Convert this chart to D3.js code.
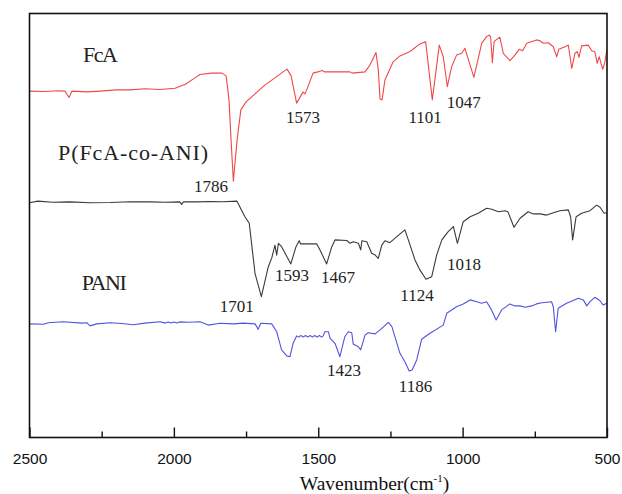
<!DOCTYPE html>
<html>
<head>
<meta charset="utf-8">
<script src="https://cdn.jsdelivr.net/npm/d3@7"></script>
<style>
  html, body { margin: 0; padding: 0; background: #fff; }
  svg { display: block; }
</style>
</head>
<body>
<svg id="chart" width="622" height="494"></svg>
<script>
// ---------------- DATA ----------------
// FcA spectrum (wavenumber cm-1, transmittance a.u.)
const fcaWn = [2500,2450,2400,2377,2363,2353,2300,2256,2200,2152,2100,2048,1996,1960,1927,1910,1870,1833,1819,1809,1802,1794,1781,1768,1750,1719,1685,1650,1622,1608,1594,1575,1563,1553,1546,1539,1518,1501,1487,1477,1440,1390,1383,1338,1321,1300,1292,1286,1279,1269,1241,1217,1182,1148,1128,1105,1081,1067,1053,1038,1021,1003,992,961,934,917,908,903,897,891,884,871,859,836,819,804,792,778,744,732,721,703,686,674,667,645,634,622,611,603,597,588,565,553,542,534,527,515,507,501];
const fcaT  = [86.6,86.5,86.7,86.6,85.0,86.6,86.4,86.6,86.9,86.9,87.2,87.0,87.3,88.3,89.9,90.75,91.1,91.1,90.4,84.4,74.4,64.1,74.4,81.9,83.9,85.9,88.1,89.9,91.4,92.1,90.4,83.6,85.1,86.4,85.9,87.1,91.1,91.4,91.75,91.4,91.4,91.4,91.1,91.4,93.1,96.25,91.9,84.6,84.4,89.4,93.9,95.4,96.5,98.4,98.95,84.4,98.1,95.2,87.7,92.7,95.6,96.05,97.3,90.05,98.55,100.2,100.6,100.2,93.7,98.95,99.4,100.05,96.05,94.2,95.6,97.05,96.7,98.55,99.4,99.2,98.55,98.7,97.7,95.2,97.05,97.7,98.1,92.3,96.05,96.45,95.05,97.9,98.1,96.7,96.45,93.55,95.2,92.05,93.95,96.7];

// P(FcA-co-ANI) spectrum
const copWn = [2500,2471,2420,2360,2290,2221,2150,2083,2030,1979,1973,1967,1920,1875,1830,1782,1754,1739,1719,1697,1673,1661,1650,1644,1638,1627,1595,1577,1566,1561,1505,1494,1471,1453,1442,1401,1390,1379,1361,1353,1349,1332,1315,1303,1292,1280,1269,1252,1228,1200,1188,1165,1148,1127,1107,1090,1072,1050,1032,1018,998,974,946,917,899,876,853,843,822,801,773,755,732,709,686,663,634,626,619,607,588,559,536,524,510,501];
const copT  = [58.7,59.1,58.8,58.9,58.7,58.75,58.95,58.9,58.8,58.9,58.25,58.9,58.9,59.0,58.95,59.1,55.2,53.55,41.05,35.2,42.7,44.9,48.1,45.6,48.55,47.7,43.4,47.7,49.2,48.4,48.4,46.9,43.4,47.7,49.4,49.25,48.55,48.95,48.55,46.9,49.2,48.95,46.05,45.6,44.8,48.1,49.2,48.7,50.2,51.9,49.4,44.4,41.9,39.55,40.2,45.6,49.4,51.45,52.7,48.55,53.95,55.2,56.05,57.3,57.05,56.45,56.7,56.4,52.55,54.8,56.45,55.9,55.9,55.6,56.2,56.7,56.9,55.2,49.4,55.2,56.05,56.7,58.1,57.55,56.05,56.2];

// PANI spectrum
const paniWn = [2500,2452,2435,2383,2320,2302,2290,2267,2221,2180,2141,2100,2048,2030,2020,2010,2000,1990,1980,1950,1910,1881,1840,1794,1760,1719,1708,1699,1661,1644,1627,1609,1598,1587,1575,1568,1560,1552,1544,1536,1528,1520,1512,1504,1496,1488,1483,1477,1465,1459,1442,1425,1408,1396,1384,1379,1361,1353,1338,1327,1303,1286,1257,1245,1217,1200,1185,1175,1159,1142,1113,1067,1055,1021,998,974,951,934,917,900,884,865,836,819,801,784,761,744,726,692,686,678,669,640,599,582,570,559,542,524,513,501];
const paniT  = [28.4,28.3,28.7,28.95,28.6,28.7,27.9,28.4,28.7,28.5,28.2,28.6,28.95,28.6,28.9,28.6,28.9,28.6,28.9,28.8,28.95,28.1,28.55,28.4,28.6,28.4,27.05,28.55,28.4,26.45,21.9,20.4,20.2,23.55,25.4,25.1,25.5,25.1,25.5,25.1,25.5,25.1,25.5,25.1,25.5,25.1,25.4,26.45,26.45,24.8,23.55,20.2,25.2,26.45,26.2,23.4,22.7,21.9,25.6,26.2,25.9,26.9,28.8,27.7,21.05,18.95,16.6,16.9,19.4,24.55,26.05,28.1,31.05,32.7,33.4,34.4,33.95,33.55,33.95,31.9,29.4,31.9,33.4,32.9,32.9,32.55,32.9,33.4,33.7,33.95,32.7,26.45,32.3,33.55,34.8,34.4,32.9,33.95,35.05,34.2,33.1,33.55];

const seriesNames  = ["FcA", "P(FcA-co-ANI)", "PANI"];
// label anchors in data space (wavenumber, transmittance)
const seriesLabelWn = [2315, 2401, 2319];
const seriesLabelT  = [93.95, 69.4, 36.9];

const peakLabels = ["1786","1573","1101","1047","1701","1593","1467","1124","1018","1423","1186"];
const peakLabelWn = [1871,1553,1130,996,1782,1591,1432,1158,995,1411,1163];
const peakLabelT  = [61.5,78.55,78.7,82.3,31.45,39.1,38.55,34.2,41.9,15.4,11.45];

const majorTicks = [2500, 2000, 1500, 1000, 500];
const minorTicks = [2250, 1750, 1250, 750];
const xTitle = "Wavenumber(cm";
const xTitleSup = "-1";
const xTitleEnd = ")";

// ---------------- DRAW ----------------
(function () {
const svg = d3.select("#chart");
const pL = 29.5, pR = 607, pT = 13.5, pB = 437.5;

const x = d3.scaleLinear().domain([2500, 500]).range([pL, pR]);
const y = d3.scaleLinear().domain([0, 106]).range([pB, pT]);

const series = [
  { wn: fcaWn, t: fcaT, color: "#f04848" },
  { wn: copWn, t: copT, color: "#3a3a3a" },
  { wn: paniWn, t: paniT, color: "#5252e0" }
];

const line = d3.line().x(d => x(d[0])).y(d => y(d[1]));

series.forEach(s => {
  const pts = s.wn.map((w, i) => [w, s.t[i]]);
  svg.append("path")
    .attr("d", line(pts))
    .attr("fill", "none")
    .attr("stroke", s.color)
    .attr("stroke-width", 1.1)
    .attr("stroke-linejoin", "round");
});

// frame
svg.append("rect")
  .attr("x", pL).attr("y", pT)
  .attr("width", pR - pL).attr("height", pB - pT)
  .attr("fill", "none").attr("stroke", "#111").attr("stroke-width", 1.6);

// axes
const axMajor = svg.append("g")
  .attr("transform", `translate(0,${pB})`)
  .call(d3.axisBottom(x).tickValues(majorTicks).tickSize(-10).tickPadding(15).tickFormat(d3.format("d")));
axMajor.select(".domain").remove();
axMajor.selectAll("line").attr("stroke", "#111").attr("stroke-width", 1.4);
axMajor.selectAll("text")
  .attr("font-family", "'Liberation Sans', Arial, sans-serif")
  .attr("font-size", 15.5).attr("fill", "#111");

const axMinor = svg.append("g")
  .attr("transform", `translate(0,${pB})`)
  .call(d3.axisBottom(x).tickValues(minorTicks).tickSize(-6).tickFormat(""));
axMinor.select(".domain").remove();
axMinor.selectAll("line").attr("stroke", "#111").attr("stroke-width", 1.4);

// axis title
const title = svg.append("text")
  .attr("x", (x(1575) + x(1035)) / 2)
  .attr("y", 490)
  .attr("text-anchor", "middle")
  .attr("font-family", "'Liberation Serif', 'Times New Roman', serif")
  .attr("font-size", 19.5)
  .attr("fill", "#111");
title.append("tspan").text(xTitle);
title.append("tspan").text(xTitleSup).attr("font-size", 11).attr("dy", -8);
title.append("tspan").text(xTitleEnd).attr("dy", 8);

// series labels
const nameWidths = [35, 150, 45];
seriesNames.forEach((n, i) => {
  svg.append("text")
    .attr("x", x(seriesLabelWn[i]))
    .attr("y", y(seriesLabelT[i]))
    .attr("font-family", "'Liberation Serif', 'Times New Roman', serif")
    .attr("font-size", 22)
    .attr("textLength", nameWidths[i])
    .attr("lengthAdjust", "spacing")
    .attr("fill", "#222")
    .text(n);
});

// peak labels
peakLabels.forEach((p, i) => {
  svg.append("text")
    .attr("x", x(peakLabelWn[i]))
    .attr("y", y(peakLabelT[i]))
    .attr("text-anchor", "middle")
    .attr("font-family", "'Liberation Serif', 'Times New Roman', serif")
    .attr("font-size", 17)
    .attr("fill", "#222")
    .text(p);
});
})();
</script>
</body>
</html>
